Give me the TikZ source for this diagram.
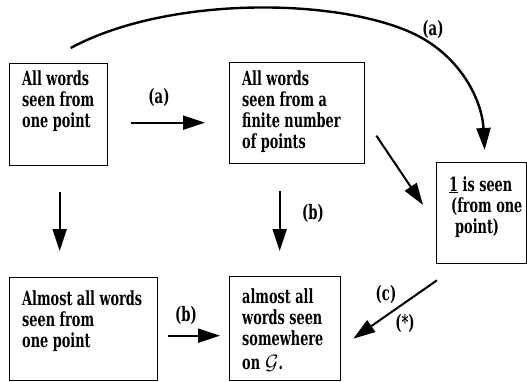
\documentclass[tikz,border=0pt]{standalone}
\usepackage{fontspec}
\newfontfamily\diafont{DejaVu Serif}[FakeStretch=0.66]
\usetikzlibrary{arrows.meta,calc}
\begin{document}
\begin{tikzpicture}[x=1pt,y=1pt,
  box/.style={draw, line width=1.3pt, rectangle, inner sep=0pt, anchor=north west},
  txt/.style={anchor=north west, inner sep=0pt, align=left, font=\diafont\bfseries\fontsize{19.5}{21}\selectfont},
  lbl/.style={inner sep=0pt, font=\diafont\bfseries\fontsize{20}{20}\selectfont},
  arr/.style={line width=2pt, -{Triangle[length=22pt,width=14pt]}},
]
\useasboundingbox (0,0) rectangle (527,-382);
% boxes
\node[box, minimum width=98pt, minimum height=102pt] (b1) at (9,-63) {};
\node[box, minimum width=135pt, minimum height=101pt] (b2) at (229,-62) {};
\node[box, minimum width=90pt, minimum height=101pt] (b3) at (436,-162) {};
\node[box, minimum width=148pt, minimum height=103pt] (b4) at (9,-277) {};
\node[box, minimum width=111pt, minimum height=104pt] (b5) at (229,-276) {};
% texts
\node[txt] (t1) at ($(b1.north west)+(13,-7)$) {All words\\seen from\\one point};
\node[txt] (t2) at ($(b2.north west)+(13,-8)$) {All words\\seen from a\\finite number\\of points};
\node[txt] (t3) at ($(b3.north west)+(13,-14)$) {\underline{1} is seen\\\hspace{2pt}(from one\\\hspace{6pt}point)};
\node[txt] (t4) at ($(b4.north west)+(13,-13)$) {Almost all words\\seen from\\one point};
\node[txt] (t5) at ($(b5.north west)+(13,-12)$) {almost all\\words seen\\somewhere\\[3pt]on\hspace{5pt}$\mathcal{G}$.};
% arrows
\draw[arr] ($(b1.east)+(23,-8)$) -- ($(b2.west)+(-24,-9.5)$);
\draw[arr] ($(b1.south)+(1,-26)$) -- ($(b4.north)+(-24,26)$);
\draw[arr] ($(b2.south)+(-17.5,-27)$) -- ($(b5.north)+(-5.5,25)$);
\draw[arr] ($(b2.east)+(11,-22.5)$) -- ($(b3.north west)+(-13,-43)$);
\draw[arr] ($(b3.south west)+(1,-16)$) -- ($(b5.east)+(12,-10)$);
\draw[arr] ($(b4.east)+(10,-6.5)$) -- ($(b5.west)+(-9,-7)$);
\coordinate (cm) at (410,-32);
\draw[arr, line width=2.4pt] ($(b1.north)+(12,15)$) .. controls (165,3) and (330,3) .. (cm)
  .. controls (460,-54) and (482,-100) .. ($(b3.north)+(3,12)$);
% labels
\node[lbl] (la1) at (159,-97) {(a)};
\node[lbl] (la2) at (433,-29) {(a)};
\node[lbl] (lb1) at (313,-213) {(b)};
\node[lbl] (lb2) at (186,-315) {(b)};
\node[lbl] (lc) at (386,-294) {(c)};
\node[lbl] (ls) at (405,-323) {(*)};
\end{tikzpicture}
\end{document}
